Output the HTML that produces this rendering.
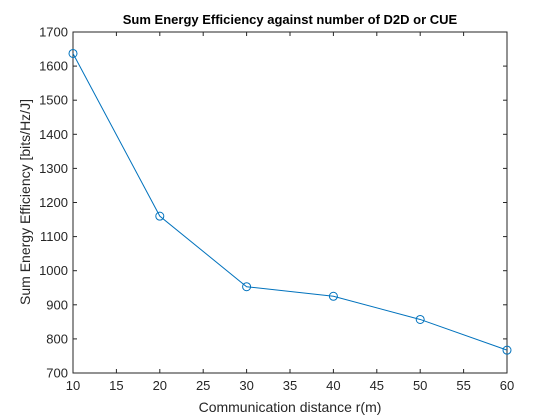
<!DOCTYPE html>
<html><head><meta charset="utf-8"><style>
body{margin:0;background:#fff}
svg{display:block;font-family:"Liberation Sans",Arial,sans-serif}
</style></head><body>
<svg id="c" width="560" height="420" xmlns="http://www.w3.org/2000/svg">
<rect width="560" height="420" fill="#fff"/>
<rect x="73" y="32" width="434" height="341" fill="#fff" stroke="none"/>
<text x="290" y="24" text-anchor="middle" font-size="13" font-weight="bold">Sum Energy Efficiency against number of D2D or CUE</text>
<text x="290" y="412" text-anchor="middle" font-size="14" fill="#262626">Communication distance r(m)</text>
<text transform="translate(30,202) rotate(-90)" text-anchor="middle" font-size="14" fill="#262626">Sum Energy Efficiency [bits/Hz/J]</text>
<g id="axes"></g>
</svg>
<script>
const xVals=[10,20,30,40,50,60];
const yVals=[1637,1160,953,925,857,767];
const xTicks=[10,15,20,25,30,35,40,45,50,55,60];
const yTicks=[700,800,900,1000,1100,1200,1300,1400,1500,1600,1700];
const L=73,R=507,T=32,B=373;
const sx=v=>L+(v-10)/50*(R-L);
const sy=v=>B-(v-700)/1000*(B-T);
const NS="http://www.w3.org/2000/svg";
const g=document.getElementById('axes');
function mk(t,a){const e=document.createElementNS(NS,t);for(const k in a)e.setAttribute(k,a[k]);g.appendChild(e);return e;}
const box=mk('rect',{x:L,y:T,width:R-L,height:B-T,fill:'none',stroke:'#262626','stroke-width':1});


xTicks.forEach(v=>{const x=sx(v);
 const t1=mk('line',{x1:x,x2:x,y1:B,y2:B-4,stroke:'#262626'});
 
 
 mk('line',{x1:x,x2:x,y1:T,y2:T+4,stroke:'#262626'});
 const tx=mk('text',{x:x,y:B+17,'text-anchor':'middle','font-size':13,fill:'#262626'});tx.textContent=v;
 
 
});
yTicks.forEach(v=>{const y=sy(v);
 const t1=mk('line',{x1:L,x2:L+4,y1:y,y2:y,stroke:'#262626'});
 
 
 mk('line',{x1:R,x2:R-4,y1:y,y2:y,stroke:'#262626'});
 const tx=mk('text',{x:L-5,y:y+4.5,'text-anchor':'end','font-size':13,fill:'#262626'});tx.textContent=v;
 
 
});
const pl=mk('polyline',{points:xVals.map((v,i)=>sx(v)+','+sy(yVals[i])).join(' '),fill:'none',stroke:'#0072bd','stroke-width':1});


xVals.forEach((v,i)=>{const c=mk('circle',{cx:sx(v),cy:sy(yVals[i]),r:4,fill:'none',stroke:'#0072bd','stroke-width':1});
 
 
});
</script>
</body></html>
